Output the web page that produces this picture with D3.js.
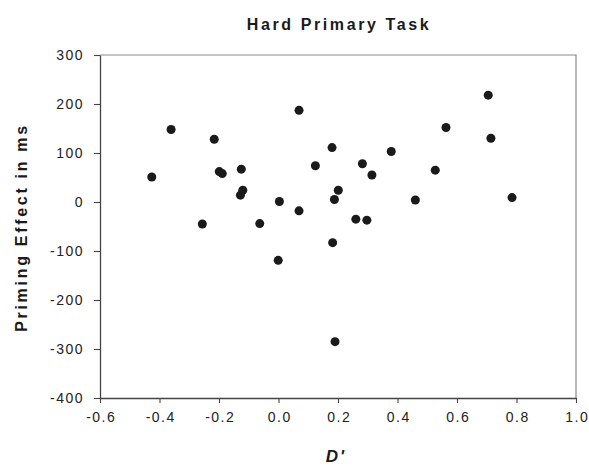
<!DOCTYPE html>
<html>
<head>
<meta charset="utf-8">
<script src="https://cdn.jsdelivr.net/npm/d3@7"></script>
<style>
  html, body { margin: 0; padding: 0; background: #fff; }
  svg { display: block; font-family: "Liberation Sans", Arial, sans-serif; }
</style>
</head>
<body>
<svg id="chart" width="589" height="466"></svg>
<script>
// Data (D' vs priming effect in ms)
const dPrime = [-0.426, -0.361, -0.216, 0.069, -0.199, -0.189, -0.125, -0.120, -0.128, 0.003,
                0.069, -0.256, -0.063, 0.124, 0.180, 0.201, 0.188,
                0.705, 0.563, 0.714, 0.379, 0.282, 0.314, 0.527, 0.460, 0.785, 0.260, 0.297,
                -0.001, 0.182, 0.190];
const primingEffect = [51, 148, 128, 187, 62, 58, 67, 24, 14, 1,
                       -18, -45, -44, 74, 111, 24, 5,
                       218, 152, 130, 103, 78, 55, 65, 4, 9, -35, -37,
                       -119, -83, -285];
const xTicks = [-0.6, -0.4, -0.2, 0.0, 0.2, 0.4, 0.6, 0.8, 1.0];
const xTickLabels = ["-0.6", "-0.4", "-0.2", "0.0", "0.2", "0.4", "0.6", "0.8", "1.0"];
const yTicks = [-400, -300, -200, -100, 0, 100, 200, 300];
const yTickLabels = ["-400", "-300", "-200", "-100", "0", "100", "200", "300"];
const title = "Hard Primary Task";
const xLabel = "D'";
const yLabel = "Priming Effect in ms";

const svg = d3.select("#chart");
const mLeft = 100, mRight = 576, mTop = 55, mBottom = 398;

const x = d3.scaleLinear().domain([-0.6, 1.0]).range([mLeft, mRight]);
const y = d3.scaleLinear().domain([-400, 300]).range([mBottom, mTop]);

// top and right border (gray)
svg.append("path")
  .attr("d", `M${mLeft},${mTop}H${mRight}V${mBottom}`)
  .attr("fill", "none").attr("stroke", "#8a8a8a").attr("stroke-width", 1.2);

// axes
const xAxis = svg.append("g").attr("transform", `translate(0,${mBottom})`)
  .call(d3.axisBottom(x).tickValues(xTicks)
    .tickFormat((d, i) => xTickLabels[i])
    .tickSizeOuter(0).tickSizeInner(5).tickPadding(9));
const yAxis = svg.append("g").attr("transform", `translate(${mLeft},0)`)
  .call(d3.axisLeft(y).tickValues(yTicks)
    .tickFormat((d, i) => yTickLabels[i])
    .tickSizeOuter(0).tickSizeInner(6).tickPadding(10));

[xAxis, yAxis].forEach(g => {
  g.select(".domain").attr("stroke", "#444").attr("stroke-width", 1.3);
  g.selectAll(".tick line").attr("stroke", "#444").attr("stroke-width", 1.1);
  g.selectAll(".tick text")
    .attr("fill", "#222")
    .style("font-size", "14px")
    .style("letter-spacing", "1.5px")
    .style("font-family", "'Liberation Sans', Arial, sans-serif");
});
xAxis.selectAll(".tick text").attr("dx", "0.7px");

// points
svg.append("g").selectAll("circle")
  .data(dPrime.map((d, i) => [d, primingEffect[i]]))
  .join("circle")
  .attr("cx", d => x(d[0]))
  .attr("cy", d => y(d[1]))
  .attr("r", 4.5)
  .attr("fill", "#1a1a1a");

// title
svg.append("text")
  .attr("x", (mLeft + mRight) / 2 + 1).attr("y", 29.5)
  .attr("text-anchor", "middle")
  .style("font-size", "16px").style("font-weight", "bold")
  .style("letter-spacing", "2.6px")
  .attr("fill", "#1a1a1a")
  .text(title);

// x label
svg.append("text")
  .attr("x", 336).attr("y", 462)
  .attr("text-anchor", "middle")
  .style("font-size", "17px").style("font-weight", "bold").style("font-style", "italic")
  .style("letter-spacing", "2px")
  .attr("fill", "#1a1a1a")
  .text(xLabel);

// y label
svg.append("text")
  .attr("transform", `translate(27,${(mTop + mBottom) / 2 + 1}) rotate(-90)`)
  .attr("text-anchor", "middle")
  .style("font-size", "16px").style("font-weight", "bold")
  .style("letter-spacing", "2.7px")
  .attr("fill", "#1a1a1a")
  .text(yLabel);
</script>
</body>
</html>
